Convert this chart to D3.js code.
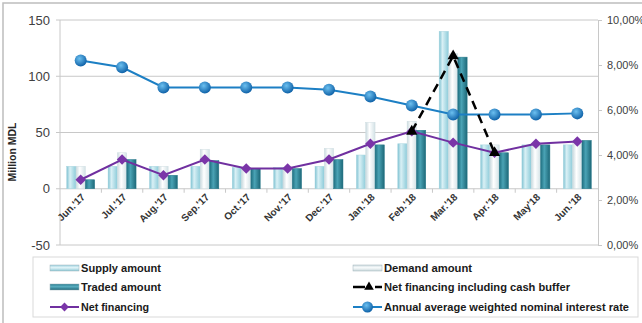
<!DOCTYPE html>
<html>
<head>
<meta charset="utf-8">
<script src="https://cdn.jsdelivr.net/npm/d3@7"></script>
<style>
  body { margin: 0; background: #fff; }
  svg { display: block; font-family: "Liberation Sans", Arial, sans-serif; }
</style>
</head>
<body>
<div id="chart"></div>
<script>
const months = ["Jun.'17", "Jul.'17", "Aug.'17", "Sep.'17", "Oct.'17", "Nov.'17", "Dec.'17",
  "Jan.'18", "Feb.'18", "Mar.'18", "Apr.'18", "May'18", "Jun.'18"];
const supply = [20, 20, 20, 20, 19, 19, 20, 30, 40, 140, 39, 39, 39];
const demand = [20, 32, 20, 35, 19, 19, 36, 59, 60, 120, 39, 39, 40];
const traded = [8, 26, 12, 25, 18, 18, 26, 39, 52, 117, 32, 39, 43];
const netFinancing = [8, 26, 12, 26, 18, 18, 26, 40, 51, 41, 32, 40, 42];
const netFinancingCash = [null, null, null, null, null, null, null, null, 51, 118, 32, null, null];
const interestRate = [8.2, 7.9, 7.0, 7.0, 7.0, 7.0, 6.9, 6.6, 6.2, 5.8, 5.8, 5.8, 5.85];
const leftTicks = [-50, 0, 50, 100, 150];
const rightTicks = [0, 2, 4, 6, 8, 10];

const W = 642, H = 323;
const plot = { left: 60, right: 598, top: 20, bottom: 245 };

const svg = d3.select('#chart').append('svg')
  .attr('width', W)
  .attr('height', H);

const defs = svg.append('defs');
function barGrad(id, stops) {
  const g = defs.append('linearGradient').attr('id', id)
    .attr('x1', '0%').attr('x2', '100%').attr('y1', '0%').attr('y2', '0%');
  stops.forEach(s => g.append('stop').attr('offset', s[0]).attr('stop-color', s[1]));
}
barGrad('gSupply', [['0%', '#7fc2d2'], ['35%', '#d9f0f5'], ['100%', '#8ccbd9']]);
barGrad('gDemand', [['0%', '#c9d9de'], ['40%', '#ffffff'], ['100%', '#d3e2e6']]);
barGrad('gTraded', [['0%', '#1f6f80'], ['40%', '#4aa3b5'], ['100%', '#1d6878']]);
function swatchGrad(id, top, mid, bottom) {
  const g = defs.append('linearGradient').attr('id', id)
    .attr('x1', 0).attr('x2', 0).attr('y1', 0).attr('y2', 1);
  g.append('stop').attr('offset', '0%').attr('stop-color', top);
  g.append('stop').attr('offset', '45%').attr('stop-color', mid);
  g.append('stop').attr('offset', '100%').attr('stop-color', bottom);
}
swatchGrad('sSupply', '#9fd3e0', '#e2f4f8', '#8ac6d4');
swatchGrad('sDemand', '#d0dde1', '#f8fbfc', '#c9d7db');
swatchGrad('sTraded', '#2a7f92', '#5aaec0', '#1d6577');
const rg = defs.append('radialGradient').attr('id', 'gDot')
  .attr('cx', '40%').attr('cy', '35%').attr('r', '65%');
rg.append('stop').attr('offset', '0%').attr('stop-color', '#6cc0f0');
rg.append('stop').attr('offset', '100%').attr('stop-color', '#0f62a8');

// outer frame
svg.append('rect')
  .attr('x', 3).attr('y', 3).attr('width', W + 10).attr('height', H + 10)
  .attr('fill', 'none').attr('stroke', '#bdbdbd').attr('stroke-width', 1.5);

const x = d3.scaleBand().domain(months).range([plot.left, plot.right]);
const x1 = d3.scaleBand().domain(['supply', 'demand', 'traded'])
  .range([0, x.bandwidth()]).paddingOuter(0.72);
const y = d3.scaleLinear().domain([-50, 150]).range([plot.bottom, plot.top]);
const y2 = d3.scaleLinear().domain([0, 10]).range([plot.bottom, plot.top]);

// gridlines
svg.append('g')
  .selectAll('line').data(leftTicks).join('line')
  .attr('x1', plot.left - 4).attr('x2', plot.right)
  .attr('y1', d => y(d)).attr('y2', d => y(d))
  .attr('stroke', '#c8c8c8').attr('stroke-width', 1);

// left axis line + labels
svg.append('line')
  .attr('x1', plot.left).attr('x2', plot.left)
  .attr('y1', plot.top).attr('y2', plot.bottom)
  .attr('stroke', '#c8c8c8');
svg.append('g')
  .selectAll('text').data(leftTicks).join('text')
  .attr('x', plot.left - 10).attr('y', d => y(d) + 4.5)
  .attr('text-anchor', 'end')
  .attr('font-size', 13).attr('fill', '#404040')
  .text(d => d);

svg.append('text')
  .attr('transform', `translate(16,152) rotate(-90)`)
  .attr('text-anchor', 'middle')
  .attr('font-size', 10.5).attr('font-weight', 'bold').attr('fill', '#262626')
  .text('Million MDL');

// right axis
const rightAxis = svg.append('g')
  .attr('transform', `translate(${plot.right},0)`)
  .call(d3.axisRight(y2).tickValues(rightTicks).tickSize(4).tickPadding(5)
    .tickFormat(d => d3.format('.2f')(d).replace('.', ',') + '%'));
rightAxis.select('.domain').attr('stroke', '#c8c8c8');
rightAxis.selectAll('.tick line').attr('stroke', '#c8c8c8');
rightAxis.selectAll('text').attr('font-size', 11).attr('fill', '#404040')
  .attr('font-family', '"Liberation Sans", Arial, sans-serif');

// x-axis ticks at category boundaries
svg.append('g')
  .selectAll('line').data(months.slice(1)).join('line')
  .attr('x1', d => x(d)).attr('x2', d => x(d))
  .attr('y1', y(0)).attr('y2', y(0) + 4)
  .attr('stroke', '#c8c8c8');

// bars
const series = [
  { key: 'supply', values: supply, fill: 'url(#gSupply)', stroke: '#a9d6e0' },
  { key: 'demand', values: demand, fill: 'url(#gDemand)', stroke: '#cfdde1' },
  { key: 'traded', values: traded, fill: 'url(#gTraded)', stroke: '#2a7a8b' }
];
series.forEach(s => {
  svg.append('g')
    .selectAll('rect').data(s.values).join('rect')
    .attr('x', (d, i) => x(months[i]) + x1(s.key))
    .attr('width', x1.bandwidth())
    .attr('y', d => y(d))
    .attr('height', d => y(0) - y(d))
    .attr('fill', s.fill)
    .attr('stroke', s.stroke).attr('stroke-width', 0.5);
});

const cx = i => x(months[i]) + x.bandwidth() / 2;

// net financing
svg.append('path')
  .datum(netFinancing)
  .attr('fill', 'none').attr('stroke', '#7030a0').attr('stroke-width', 2)
  .attr('d', d3.line().x((d, i) => cx(i)).y(d => y(d)));
svg.append('g')
  .selectAll('path').data(netFinancing).join('path')
  .attr('transform', (d, i) => `translate(${cx(i)},${y(d)})`)
  .attr('d', d3.symbol(d3.symbolDiamond2, 70))
  .attr('fill', '#7a35a8');

// interest rate
svg.append('path')
  .datum(interestRate)
  .attr('fill', 'none').attr('stroke', '#1c7fc4').attr('stroke-width', 2)
  .attr('d', d3.line().x((d, i) => cx(i)).y(d => y2(d)));
svg.append('g')
  .selectAll('circle').data(interestRate).join('circle')
  .attr('cx', (d, i) => cx(i)).attr('cy', d => y2(d)).attr('r', 6)
  .attr('fill', 'url(#gDot)');

// net financing including cash buffer
svg.append('path')
  .datum(netFinancingCash)
  .attr('fill', 'none').attr('stroke', '#000').attr('stroke-width', 2.5)
  .attr('stroke-dasharray', '9,6')
  .attr('d', d3.line().defined(d => d !== null).x((d, i) => cx(i)).y(d => y(d)));
svg.append('g')
  .selectAll('path').data(netFinancingCash.map((d, i) => [d, i]).filter(p => p[0] !== null)).join('path')
  .attr('transform', p => `translate(${cx(p[1])},${y(p[0])})`)
  .attr('d', d3.symbol(d3.symbolTriangle, 55))
  .attr('fill', '#000');

// x labels
svg.append('g')
  .selectAll('text').data(months).join('text')
  .attr('transform', d => `translate(${x(d) + x.bandwidth() / 2 + 5},${y(0) + 9}) rotate(-45)`)
  .attr('text-anchor', 'end')
  .attr('font-size', 10).attr('font-weight', 'bold').attr('fill', '#333')
  .text(d => d);

// legend
const legend = svg.append('g');
legend.append('rect')
  .attr('x', 33).attr('y', 257).attr('width', 605).attr('height', 60)
  .attr('fill', '#fff').attr('stroke', '#d9d9d9');
const items = [
  { label: 'Supply amount', type: 'bar', fill: 'url(#sSupply)', col: 0, row: 0, len: 80 },
  { label: 'Demand amount', type: 'bar', fill: 'url(#sDemand)', col: 1, row: 0, len: 88 },
  { label: 'Traded amount', type: 'bar', fill: 'url(#sTraded)', col: 0, row: 1, len: 80 },
  { label: 'Net financing including cash buffer', type: 'dash', col: 1, row: 1, len: 186 },
  { label: 'Net financing', type: 'diamond', col: 0, row: 2, len: 68 },
  { label: 'Annual average weighted nominal interest rate', type: 'dot', col: 1, row: 2, len: 245 }
];
const colX = [50, 353];
const rowY = [268, 287, 307];
items.forEach(it => {
  const g = legend.append('g').attr('transform', `translate(${colX[it.col]},${rowY[it.row]})`);
  if (it.type === 'bar') {
    g.append('rect').attr('x', 0).attr('y', -3).attr('width', 29).attr('height', 6)
      .attr('fill', it.fill)
      .attr('stroke', '#9fb4ba').attr('stroke-width', 0.5);
  } else if (it.type === 'dash') {
    g.append('line').attr('x1', 0).attr('x2', 12).attr('y1', 0).attr('y2', 0)
      .attr('stroke', '#000').attr('stroke-width', 2.5);
    g.append('line').attr('x1', 22).attr('x2', 29).attr('y1', 0).attr('y2', 0)
      .attr('stroke', '#000').attr('stroke-width', 2.5);
    g.append('path').attr('transform', 'translate(16,0)')
      .attr('d', d3.symbol(d3.symbolTriangle, 40)).attr('fill', '#000');
  } else if (it.type === 'diamond') {
    g.append('line').attr('x1', 0).attr('x2', 29).attr('stroke', '#7030a0').attr('stroke-width', 2);
    g.append('path').attr('transform', 'translate(14.5,0)')
      .attr('d', d3.symbol(d3.symbolDiamond2, 50)).attr('fill', '#7a35a8');
  } else {
    g.append('line').attr('x1', 0).attr('x2', 29).attr('stroke', '#1c7fc4').attr('stroke-width', 2);
    g.append('circle').attr('cx', 14.5).attr('r', 5.5).attr('fill', 'url(#gDot)');
  }
  g.append('text').attr('x', 31).attr('y', 4)
    .attr('font-size', 11.5).attr('font-weight', 'bold').attr('fill', '#1a1a1a')
    .attr('textLength', it.len).attr('lengthAdjust', 'spacingAndGlyphs')
    .text(it.label);
});
</script>
</body>
</html>
